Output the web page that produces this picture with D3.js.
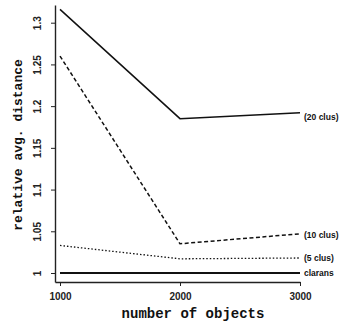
<!DOCTYPE html>
<html>
<head>
<meta charset="utf-8">
<script src="https://cdn.jsdelivr.net/npm/d3@7"></script>
<style>
  html, body { margin: 0; padding: 0; background: #fff; }
  svg { display: block; }
</style>
</head>
<body>
<div id="chart"></div>
<script>
const objects = [1000, 2000, 3000];
const clus20 = [1.316, 1.185, 1.192];
const clus10 = [1.26, 1.035, 1.047];
const clus5 = [1.033, 1.017, 1.018];
const clarans = [1.0, 1.0, 1.0];
const seriesNames = ['(20 clus)', '(10 clus)', '(5 clus)', 'clarans'];
const yTicks = [1, 1.05, 1.1, 1.15, 1.2, 1.25, 1.3];
const yTickLabels = ['1', '1.05', '1.1', '1.15', '1.2', '1.25', '1.3'];

const width = 345, height = 326;

const svg = d3.select('#chart').append('svg')
  .attr('width', width)
  .attr('height', height);

const x = d3.scaleLinear().domain([1000, 3000]).range([60, 300]);
const y = d3.scaleLinear().domain([1, 1.3]).range([273, 22.7]);

// axes (domain line a bit longer than the data range)
const xAxisScale = x.copy().domain([x.invert(55), 3000]).range([55, 300]);
const yAxisScale = y.copy().domain([y.invert(282), y.invert(5)]).range([282, 5]);

svg.append('g')
  .attr('transform', 'translate(0,282)')
  .call(d3.axisBottom(xAxisScale).tickValues(objects).tickSize(4).tickSizeOuter(0).tickFormat(d3.format('d')))
  .call(g => g.select('.domain').attr('stroke', '#222').attr('stroke-width', 1.4))
  .call(g => g.selectAll('line').attr('stroke', '#222'))
  .selectAll('text')
    .attr('dy', '1.1em')
    .style('font-family', 'Liberation Sans, Arial, sans-serif')
    .style('font-size', '10px')
    .style('font-weight', 'bold')
    .style('fill', '#222');

svg.append('g')
  .attr('transform', 'translate(55,0)')
  .call(d3.axisLeft(yAxisScale).tickValues(yTicks).tickSize(4).tickSizeOuter(0)
    .tickFormat((d, i) => yTickLabels[i]))
  .call(g => g.select('.domain').attr('stroke', '#222').attr('stroke-width', 1.4))
  .call(g => g.selectAll('line').attr('stroke', '#222'))
  .call(g => g.selectAll('text')
    .attr('x', null)
    .attr('dy', null)
    .attr('text-anchor', 'middle')
    .attr('transform', 'translate(-14,0) rotate(-90)')
    .style('font-family', 'Liberation Sans, Arial, sans-serif')
    .style('font-size', '10px')
    .style('font-weight', 'bold')
    .style('fill', '#222'));

const line = d3.line()
  .x((d, i) => x(objects[i]))
  .y(d => y(d));

const series = [
  { values: clus20, dash: null, w: 1.5 },
  { values: clus10, dash: '4,2.5', w: 1.5 },
  { values: clus5, dash: '1.5,2', w: 1.3 },
  { values: clarans, dash: null, w: 2 }
];

svg.selectAll('path.series')
  .data(series)
  .join('path')
  .attr('class', 'series')
  .attr('d', d => line(d.values))
  .attr('fill', 'none')
  .attr('stroke', '#111')
  .attr('stroke-width', d => d.w)
  .attr('stroke-dasharray', d => d.dash);

// end labels
const labelOffsets = [4, 1, 0, 0];
svg.selectAll('text.end-label')
  .data(series)
  .join('text')
  .attr('class', 'end-label')
  .attr('x', x(3000) + 4)
  .attr('y', (d, i) => y(d.values[2]) + labelOffsets[i])
  .attr('dy', '0.35em')
  .style('font-family', 'Liberation Sans, Arial, sans-serif')
  .style('font-size', '8.5px')
  .style('font-weight', 'bold')
  .style('fill', '#111')
  .text((d, i) => seriesNames[i]);

// axis titles
svg.append('text')
  .attr('x', 193)
  .attr('y', 318)
  .attr('text-anchor', 'middle')
  .style('font-family', 'Liberation Mono, Courier New, monospace')
  .style('font-size', '14px')
  .style('font-weight', 'bold')
  .style('fill', '#111')
  .text('number of objects');

svg.append('text')
  .attr('transform', 'translate(22,145) rotate(-90)')
  .attr('text-anchor', 'middle')
  .style('font-family', 'Liberation Mono, Courier New, monospace')
  .style('font-size', '13px')
  .style('font-weight', 'bold')
  .style('fill', '#111')
  .text('relative avg. distance');
</script>
</body>
</html>
